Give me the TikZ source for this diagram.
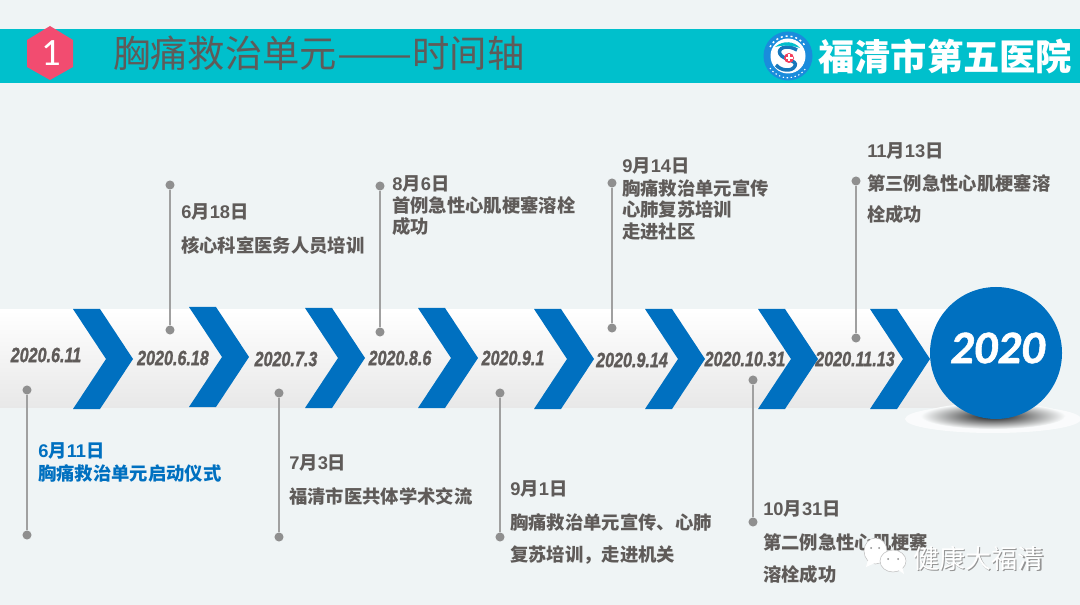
\documentclass[tikz,border=0pt]{standalone}
\usepackage{fontspec}
\setmainfont{Noto Sans CJK SC}
\newfontfamily\lsb{Liberation Sans}
\newfontfamily\datef{Liberation Sans}[BoldItalicFeatures={FakeBold=1.4}]
\newfontfamily\carl{Carlito}
\newfontfamily\carlb{Carlito}[BoldItalicFeatures={FakeBold=1.2}]
\newcommand{\dt}[1]{{\lsb\bfseries #1}}
\definecolor{bgc}{HTML}{EFF4F5}
\definecolor{teal1}{HTML}{00C0CC}
\definecolor{blue1}{HTML}{0070C0}
\definecolor{logob}{HTML}{1A8CDC}
\definecolor{txt}{HTML}{5F5B59}
\definecolor{dotc}{HTML}{8F8F8F}
\definecolor{pink1}{HTML}{F24C70}
\tikzset{
 x=0.75pt,y=-0.75pt,
 chev/.style={fill=blue1,draw=none},
 dotn/.style={circle,fill=dotc,draw=none,minimum size=6.8pt,inner sep=0pt},
 stem/.style={draw=dotc!85,line width=1.3pt},
 lab/.style={anchor=west,inner sep=0pt,text=txt,font=\fontsize{13.75}{16}\selectfont\bfseries},
 datel/.style={inner sep=0pt,text=txt,font=\datef\fontsize{15.5}{17}\selectfont\bfseries\itshape,transform shape,xscale=.78},
 wmk/.style={anchor=west,inner sep=0pt,font=\fontsize{19.6}{22}\selectfont},
}
\newcommand{\chevron}[2]{% left x, top y
 \fill[chev] (#1,#2) -- ++(27,0) -- ++(33,50) -- ++(-33,50) -- ++(-27,0) -- ++(33,-50) -- cycle;}
\begin{document}
\begin{tikzpicture}
\useasboundingbox (0,0) rectangle (1080,605);
\fill[bgc] (0,0) rectangle (1080,605);
% header
\fill[teal1] (0,29) rectangle (1080,83);
\fill[pink1] (50,26) -- (73,40) -- (73,67) -- (50,80) -- (27,67) -- (27,40) -- cycle;
\node[text=white,inner sep=0pt,font=\carl\fontsize{29}{30}\selectfont] (num) at (51,53.5) {1};
\node[anchor=west,inner sep=0pt,text=txt,font=\fontsize{28}{30}\selectfont] (title) at (113,53) {胸痛救治单元\scalebox{1.2}[1]{——}时间轴};
% logo
\fill[logob] (788,56) circle (24.5);
\fill[white] (788,56) circle (17.5);
\draw[white,line width=1.1pt,dash pattern=on 1.5pt off 2.2pt] (770,47) arc (-153:-27:20);
\draw[white,line width=.8pt,dash pattern=on 1pt off 2pt] (770,68) arc (147:33:21.5);
\draw[logob!85!black,line width=2.6pt] (797,50) .. controls (787,44) and (777,48) .. (780,54) .. controls (783,60) and (798,60) .. (795,66) .. controls (792,72) and (781,71) .. (776,65);
\fill[teal1] (775,47) .. controls (783,40) and (794,41) .. (800,48) .. controls (791,45) and (783,45) .. (775,47) -- cycle;
\fill[pink1!80!red] (789,58) circle (5);
\fill[white] (787.9,54.5) rectangle (790.1,61.5);
\fill[white] (785.5,56.9) rectangle (792.5,59.1);
\node[anchor=west,inner sep=0pt,text=white,font=\fontsize{27.2}{30}\selectfont\bfseries] (hosp) at (818,57) {福清市第五医院};
% band
\shade[top color=white,bottom color=black!9] (0,310) rectangle (955,407);
% chevrons
\chevron{73}{309}
\chevron{189}{307}
\chevron{305}{308}
\chevron{418}{308}
\chevron{534}{309}
\chevron{645}{309}
\chevron{758}{309}
\chevron{870}{309}
% shadow + circle
\fill[white,opacity=.7] (993,419) ellipse (88 and 14);
\shade[inner color=black!90,outer color=white!60!bgc,draw=none] (993,416) ellipse (72 and 13);
\fill[blue1] (996,353) circle (66);
\node[text=white,inner sep=0pt,font=\carlb\fontsize{35}{36}\selectfont\bfseries\itshape] (yr) at (997.5,348) {2020};
% dates
\node[datel] (d1) at (46,355) {2020.6.11};
\node[datel] (d2) at (173,358) {2020.6.18};
\node[datel] (d3) at (286,359) {2020.7.3};
\node[datel] (d4) at (400,358) {2020.8.6};
\node[datel] (d5) at (513,358) {2020.9.1};
\node[datel] (d6) at (632,360) {2020.9.14};
\node[datel] (d7) at (745,359) {2020.10.31};
\node[datel] (d8) at (855,359) {2020.11.13};
% stems
\foreach \n/\x/\ya/\yb in {p1/27/390/535,p2/170/185/330,p3/279/393/537,p4/380/186/332,p5/500/393/537,p6/612/183/328,p7/753/380/522,p8/856/181/338}{
 \node[dotn] (\n a) at (\x,\ya) {};
 \node[dotn] (\n b) at (\x,\yb) {};
 \draw[stem] (\n a) -- (\n b);
}
% labels
\node[lab,text=blue1] (t1a) at (38,451) {\dt{6}月\dt{11}日};
\node[lab,text=blue1] (t1b) at (38,473) {胸痛救治单元启动仪式};
\node[lab] (t2a) at (181,212) {\dt{6}月\dt{18}日};
\node[lab] (t2b) at (181,245) {核心科室医务人员培训};
\node[lab] (t3a) at (289,463) {\dt{7}月\dt{3}日};
\node[lab] (t3b) at (289,496) {福清市医共体学术交流};
\node[lab] (t4a) at (392,184) {\dt{8}月\dt{6}日};
\node[lab] (t4b) at (392,205) {首例急性心肌梗塞溶栓};
\node[lab] (t4c) at (392,227) {成功};
\node[lab] (t5a) at (510,489) {\dt{9}月\dt{1}日};
\node[lab] (t5b) at (510,522) {胸痛救治单元宣传、心肺};
\node[lab] (t5c) at (510,555) {复苏培训，走进机关};
\node[lab] (t6a) at (622,166) {\dt{9}月\dt{14}日};
\node[lab] (t6b) at (622,188) {胸痛救治单元宣传};
\node[lab] (t6c) at (622,210) {心肺复苏培训};
\node[lab] (t6d) at (622,232) {走进社区};
\node[lab] (t7a) at (763,509) {\dt{10}月\dt{31}日};
\node[lab] (t7b) at (763,542) {第二例急性心肌梗塞};
\node[lab] (t7c) at (763,575) {溶栓成功};
\node[lab] (t8a) at (867,151) {\dt{11}月\dt{13}日};
\node[lab] (t8b) at (867,183) {第三例急性心肌梗塞溶};
\node[lab] (t8c) at (867,215) {栓成功};
% watermark
\fill[white,draw=black!25,line width=.4pt] (875.5,551) ellipse (11.5 and 13) ;
\fill[white] (868,560) -- (866,567) -- (875,563) -- cycle;
\fill[white,draw=black!25,line width=.4pt] (893,561) ellipse (13 and 11);
\fill[white] (897,569) -- (904,574) -- (902,566) -- cycle;
\fill[black!45] (888,559) circle (1) (898,559) circle (1) (871,548) circle (1) (879,548) circle (1);
\node[wmk,text=black!42] (wms) at (914.2,559.2) {健康大福清};
\node[wmk,text=white] (wm) at (913,558) {健康大福清};
\end{tikzpicture}
\end{document}
